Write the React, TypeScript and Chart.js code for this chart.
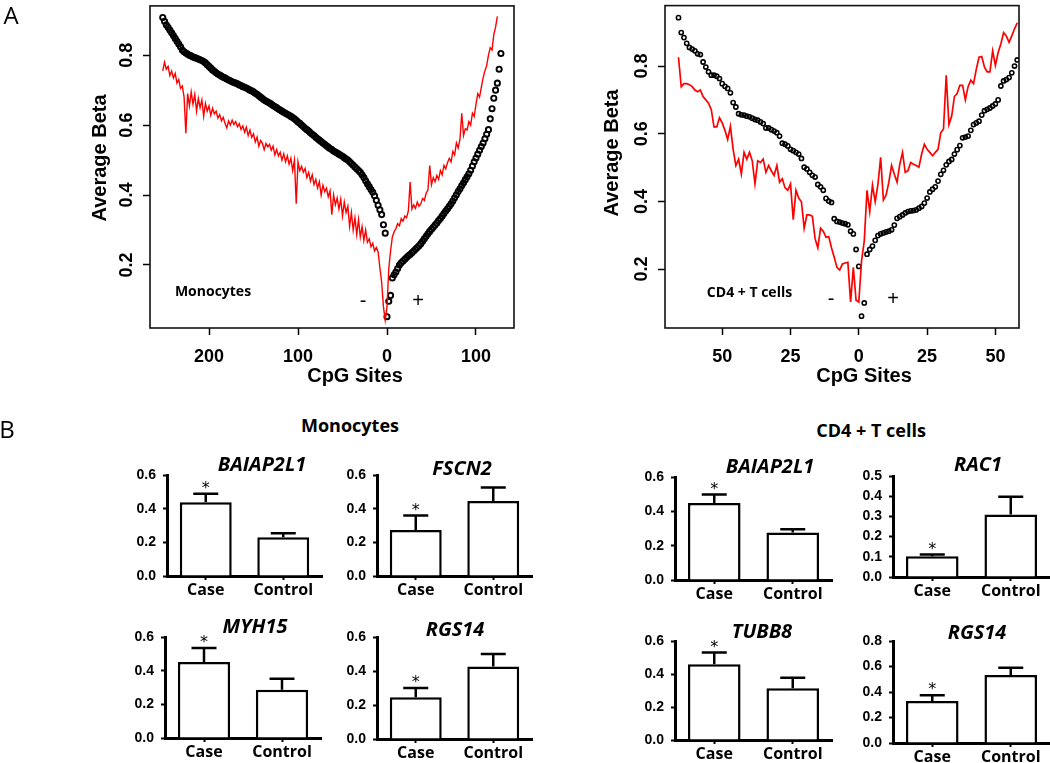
import React, { useEffect, useRef } from "react";
import { Chart, registerables } from "chart.js";

Chart.register(...registerables);

const ARIAL = '"Liberation Sans", Arial, Helvetica, sans-serif';
const OPEN = '"Open Sans", "Noto Sans", sans-serif';

// ---------------- Panel A data ----------------
// Monocytes: values every 2 CpG sites. Left (upstream, "-") starts at site -252; right ("+") starts at 0.
const monoLeftStart = -252;
const monoRightStart = 0;
const monoStep = 2;
const monoBlackLeft = [
  0.908, 0.897, 0.887, 0.88, 0.872, 0.864, 0.856, 0.848, 0.84, 0.832,
  0.824, 0.815, 0.81, 0.806, 0.803, 0.8, 0.798, 0.795, 0.793, 0.791,
  0.789, 0.787, 0.785, 0.782, 0.778, 0.773, 0.768, 0.763, 0.758, 0.754,
  0.75, 0.746, 0.743, 0.74, 0.737, 0.735, 0.732, 0.729, 0.727, 0.724,
  0.722, 0.72, 0.718, 0.715, 0.713, 0.71, 0.708, 0.706, 0.703, 0.7,
  0.698, 0.695, 0.691, 0.688, 0.684, 0.68, 0.676, 0.672, 0.669, 0.666,
  0.663, 0.66, 0.656, 0.653, 0.65, 0.646, 0.643, 0.64, 0.637, 0.634,
  0.631, 0.628, 0.625, 0.622, 0.618, 0.614, 0.609, 0.605, 0.6, 0.596,
  0.591, 0.587, 0.583, 0.578, 0.574, 0.57, 0.565, 0.561, 0.557, 0.553,
  0.549, 0.545, 0.541, 0.537, 0.533, 0.53, 0.526, 0.523, 0.52, 0.517,
  0.514, 0.511, 0.507, 0.503, 0.5, 0.495, 0.49, 0.485, 0.48, 0.475,
  0.47, 0.465, 0.458, 0.45, 0.441, 0.432, 0.424, 0.416, 0.408, 0.398,
  0.385, 0.371, 0.358, 0.344, 0.315, 0.291,
];
const monoBlackRight = [
  0.052, 0.096, 0.113, 0.163, 0.172, 0.18, 0.19, 0.2, 0.206, 0.211,
  0.216, 0.221, 0.226, 0.23, 0.235, 0.24, 0.245, 0.25, 0.255, 0.261,
  0.268, 0.275, 0.282, 0.289, 0.296, 0.302, 0.308, 0.314, 0.32, 0.327,
  0.333, 0.34, 0.347, 0.354, 0.361, 0.368, 0.375, 0.383, 0.392, 0.401,
  0.41, 0.418, 0.427, 0.435, 0.444, 0.452, 0.461, 0.471, 0.483, 0.495,
  0.506, 0.517, 0.528, 0.539, 0.549, 0.561, 0.574, 0.587, 0.618, 0.647,
  0.677, 0.7, 0.72, 0.76, 0.805,
];
const monoRedLeft = [
  0.755, 0.78, 0.76, 0.768, 0.742, 0.755, 0.735, 0.748, 0.72, 0.73,
  0.705, 0.712, 0.68, 0.577, 0.69, 0.655, 0.695, 0.66, 0.688, 0.64,
  0.676, 0.65, 0.672, 0.625, 0.662, 0.64, 0.655, 0.628, 0.648, 0.632,
  0.64, 0.62, 0.63, 0.612, 0.622, 0.605, 0.592, 0.612, 0.6, 0.614,
  0.602, 0.61, 0.595, 0.604, 0.588, 0.598, 0.58, 0.594, 0.57, 0.586,
  0.565, 0.575, 0.552, 0.566, 0.54, 0.556, 0.548, 0.53, 0.548, 0.538,
  0.545, 0.528, 0.54, 0.515, 0.53, 0.512, 0.522, 0.5, 0.518, 0.495,
  0.512, 0.488, 0.505, 0.47, 0.5, 0.375, 0.495, 0.47, 0.482, 0.465,
  0.476, 0.45, 0.465, 0.44, 0.458, 0.43, 0.445, 0.42, 0.438, 0.4,
  0.428, 0.41, 0.42, 0.395, 0.412, 0.344, 0.4, 0.372, 0.392, 0.36,
  0.388, 0.34, 0.38, 0.35, 0.368, 0.31, 0.35, 0.3, 0.335, 0.287,
  0.33, 0.28, 0.31, 0.27, 0.3, 0.265, 0.275, 0.252, 0.262, 0.24,
  0.25, 0.238, 0.192, 0.15, 0.08, 0.042,
];
const monoRedRight = [
  0.08, 0.19, 0.24, 0.28, 0.295, 0.304, 0.318, 0.312, 0.333, 0.325,
  0.34, 0.335, 0.355, 0.437, 0.36, 0.372, 0.362, 0.38, 0.368, 0.375,
  0.39, 0.385, 0.405, 0.415, 0.484, 0.43, 0.45, 0.438, 0.456, 0.445,
  0.47, 0.458, 0.485, 0.475, 0.493, 0.505, 0.495, 0.525, 0.515, 0.549,
  0.535, 0.56, 0.634, 0.57, 0.59, 0.586, 0.61, 0.6, 0.634, 0.625,
  0.66, 0.69, 0.68, 0.709, 0.735, 0.755, 0.77, 0.8, 0.821, 0.815,
  0.859, 0.88, 0.911,
];

// CD4+ T cells: one value per CpG site. Left starts at -66, right at 0.
const cd4LeftStart = -66;
const cd4RightStart = 0;
const cd4Step = 1;
const cd4BlackLeft = [
  0.943, 0.899, 0.884, 0.867, 0.855, 0.85, 0.845, 0.836, 0.834, 0.812,
  0.797, 0.783, 0.773, 0.773, 0.77, 0.763, 0.748, 0.74, 0.734, 0.721,
  0.692, 0.679, 0.659, 0.656, 0.655, 0.652, 0.65, 0.646, 0.642, 0.64,
  0.635, 0.63, 0.617, 0.617, 0.612, 0.608, 0.603, 0.593, 0.572, 0.569,
  0.564, 0.554, 0.55, 0.545, 0.54, 0.527, 0.501, 0.496, 0.486, 0.477,
  0.472, 0.45, 0.443, 0.433, 0.409, 0.401, 0.397, 0.349, 0.341, 0.339,
  0.336, 0.334, 0.331, 0.312, 0.304, 0.258,
];
const cd4BlackRight = [
  0.208, 0.061, 0.1, 0.244, 0.258, 0.268, 0.285, 0.299, 0.304, 0.307,
  0.31, 0.312, 0.316, 0.33, 0.35, 0.355, 0.36, 0.366, 0.37, 0.372,
  0.373, 0.375, 0.38, 0.385, 0.395, 0.41, 0.428, 0.436, 0.443, 0.46,
  0.48, 0.492, 0.508, 0.518, 0.524, 0.54, 0.553, 0.565, 0.588, 0.59,
  0.593, 0.61, 0.627, 0.632, 0.637, 0.655, 0.668, 0.672, 0.676, 0.682,
  0.688, 0.7, 0.741, 0.756, 0.76, 0.766, 0.78, 0.8, 0.818,
];
const cd4RedLeft = [
  0.826, 0.739, 0.748, 0.748, 0.745, 0.739, 0.729, 0.724, 0.729, 0.71,
  0.7, 0.69, 0.671, 0.62, 0.62, 0.647, 0.632, 0.61, 0.583, 0.622,
  0.554, 0.506, 0.525, 0.481, 0.545, 0.525, 0.545, 0.52, 0.452, 0.52,
  0.515, 0.525, 0.486, 0.506, 0.49, 0.477, 0.506, 0.457, 0.467, 0.44,
  0.433, 0.452, 0.346, 0.433, 0.41, 0.399, 0.321, 0.36, 0.36, 0.356,
  0.29, 0.263, 0.321, 0.312, 0.294, 0.296, 0.263, 0.235, 0.205, 0.197,
  0.215, 0.218, 0.22, 0.103, 0.205, 0.108,
];
const cd4RedRight = [
  0.103, 0.224, 0.283, 0.433, 0.37, 0.448, 0.399, 0.45, 0.53, 0.404,
  0.419, 0.457, 0.506, 0.48, 0.457, 0.51, 0.545, 0.486, 0.491, 0.515,
  0.51, 0.506, 0.501, 0.54, 0.569, 0.554, 0.545, 0.535, 0.545, 0.554,
  0.603, 0.614, 0.773, 0.627, 0.652, 0.71, 0.719, 0.743, 0.743, 0.7,
  0.739, 0.758, 0.748, 0.79, 0.826, 0.828, 0.797, 0.783, 0.783, 0.845,
  0.802, 0.84, 0.865, 0.899, 0.889, 0.87, 0.889, 0.91, 0.928,
];

const monoXTicks = [-200, -100, 0, 100];
const cd4XTicks = [-50, -25, 0, 25, 50];
const betaTicks = [0.2, 0.4, 0.6, 0.8];

// ---------------- Panel B data ----------------
const groups = ["Case", "Control"];
const monoGenes = ["BAIAP2L1", "FSCN2", "MYH15", "RGS14"];
const monoCase = [0.438, 0.273, 0.452, 0.245];
const monoControl = [0.23, 0.446, 0.287, 0.427];
const monoCaseErr = [0.05, 0.087, 0.083, 0.055];
const monoControlErr = [0.024, 0.08, 0.065, 0.073];
const cd4Genes = ["BAIAP2L1", "RAC1", "TUBB8", "RGS14"];
const cd4Case = [0.449, 0.103, 0.459, 0.33];
const cd4Control = [0.277, 0.31, 0.313, 0.534];
const cd4CaseErr = [0.049, 0.008, 0.071, 0.045];
const cd4ControlErr = [0.018, 0.087, 0.065, 0.056];
const ticks06 = [0, 0.2, 0.4, 0.6];
const ticks05 = [0, 0.1, 0.2, 0.3, 0.4, 0.5];
const ticks08 = [0, 0.2, 0.4, 0.6, 0.8];
const monoYTicks = [ticks06, ticks06, ticks06, ticks06];
const cd4YTicks = [ticks06, ticks05, ticks06, ticks08];
const starredGroup = 0; // "Case" marked significant

// ---------------- layout (styles / positions) ----------------
const monoBarBoxes = [
  { axisX: 167, right: 322, y0: 576, yTop: 475, titleDx: 95, titleDy: -10 },
  { axisX: 377, right: 532, y0: 576, yTop: 475, titleDx: 85, titleDy: -6 },
  { axisX: 165, right: 321, y0: 738, yTop: 637, titleDx: 90, titleDy: -10 },
  { axisX: 377, right: 532, y0: 739, yTop: 637, titleDx: 78, titleDy: -7 },
];
const cd4BarBoxes = [
  { axisX: 675, right: 832, y0: 580, yTop: 477, titleDx: 95, titleDy: -10 },
  { axisX: 893, right: 1050, y0: 577, yTop: 476, titleDx: 85, titleDy: -11 },
  { axisX: 675, right: 832, y0: 740, yTop: 641, titleDx: 87, titleDy: -9 },
  { axisX: 893, right: 1050, y0: 743, yTop: 641, titleDx: 84, titleDy: -8 },
];

const toPoints = (vals: number[], start: number, step: number) =>
  vals.map((v, i) => ({ x: start + i * step, y: v }));

const zeroPad = (s: any) => {
  s.paddingLeft = 0;
  s.paddingRight = 0;
  s.paddingTop = 0;
  s.paddingBottom = 0;
};

type TextItem = {
  text: string;
  x: number;
  y: number;
  font: string;
  rotate?: number;
  align?: CanvasTextAlign;
};

const textPlugin = (items: TextItem[]) => ({
  id: "texts",
  afterDraw(chart: any) {
    const ctx = chart.ctx;
    for (const t of items) {
      ctx.save();
      ctx.translate(t.x, t.y);
      if (t.rotate) ctx.rotate(t.rotate);
      ctx.font = t.font;
      ctx.fillStyle = "#000";
      ctx.textAlign = t.align || "center";
      ctx.textBaseline = "middle";
      ctx.fillText(t.text, 0, 0);
      ctx.restore();
    }
  },
});

const boxPlugin = {
  id: "box",
  afterDatasetsDraw(chart: any) {
    const { left, top, right, bottom } = chart.chartArea;
    const ctx = chart.ctx;
    ctx.save();
    ctx.lineWidth = 1.6;
    ctx.strokeStyle = "#111";
    ctx.strokeRect(left, top, right - left, bottom - top);
    ctx.restore();
  },
};

function lineConfig(o: any) {
  return {
    type: "scatter",
    data: {
      datasets: [
        {
          data: o.red,
          showLine: true,
          borderColor: "#ff0000",
          borderWidth: o.redWidth,
          pointRadius: 0,
          tension: 0,
        },
        {
          data: o.black,
          showLine: false,
          pointRadius: o.pointRadius,
          pointBorderWidth: o.pointBorder,
          borderColor: "#000",
          backgroundColor: "rgba(255,255,255,0)",
          pointStyle: "circle",
        },
      ],
    },
    options: {
      responsive: false,
      animation: false,
      devicePixelRatio: 1,
      events: [],
      layout: { padding: o.padding },
      plugins: { legend: { display: false }, tooltip: { enabled: false } },
      scales: {
        x: {
          type: "linear",
          min: o.xMin,
          max: o.xMax,
          afterBuildTicks: (s: any) => {
            s.ticks = o.xTicks.map((v: number) => ({ value: v }));
          },
          afterFit: (s: any) => {
            s.height = o.xHeight;
            zeroPad(s);
          },
          grid: { drawOnChartArea: false, drawTicks: true, tickLength: 7, tickWidth: 1.5, tickColor: "#000" },
          border: { display: false },
          ticks: {
            color: "#000",
            font: { family: ARIAL, size: 18, weight: "bold" },
            padding: 11,
            maxRotation: 0,
            autoSkip: false,
            callback: (v: any) => String(Math.abs(Number(v))),
          },
        },
        y: {
          type: "linear",
          min: o.yMin,
          max: o.yMax,
          afterBuildTicks: (s: any) => {
            s.ticks = betaTicks.map((v) => ({ value: v }));
          },
          afterFit: (s: any) => {
            s.width = o.yWidth;
            zeroPad(s);
          },
          grid: { drawOnChartArea: false, drawTicks: true, tickLength: 7, tickWidth: 1.5, tickColor: "#000" },
          border: { display: false },
          ticks: {
            color: "#000",
            font: { family: ARIAL, size: 18, weight: "bold" },
            padding: 3,
            minRotation: 90,
            maxRotation: 90,
            crossAlign: "center",
            callback: (v: any) => Number(v).toFixed(1),
          },
        },
      },
    },
    plugins: [boxPlugin, textPlugin(o.texts)],
  };
}

function barDecor(gene: string, errs: number[], titleDx: number, titleDy: number) {
  return {
    id: "barDecor",
    afterDatasetsDraw(chart: any) {
      const ctx = chart.ctx;
      const y = chart.scales.y;
      const vals = chart.data.datasets[0].data as number[];
      const meta = chart.getDatasetMeta(0);
      ctx.save();
      ctx.strokeStyle = "#000";
      ctx.fillStyle = "#000";
      ctx.lineWidth = 2.5;
      meta.data.forEach((el: any, i: number) => {
        const top = y.getPixelForValue(vals[i]);
        const cap = y.getPixelForValue(vals[i] + errs[i]);
        ctx.beginPath();
        ctx.moveTo(el.x, top);
        ctx.lineTo(el.x, cap);
        ctx.moveTo(el.x - 12.5, cap);
        ctx.lineTo(el.x + 12.5, cap);
        ctx.stroke();
        if (i === starredGroup) {
          ctx.font = `16px "DejaVu Sans", sans-serif`;
          ctx.textAlign = "center";
          ctx.textBaseline = "middle";
          ctx.fillText("*", el.x, cap - 8 + 3);
        }
      });
      ctx.font = `italic bold 20px ${OPEN}`;
      ctx.textAlign = "center";
      ctx.textBaseline = "middle";
      ctx.fillText(gene, chart.chartArea.left + titleDx, chart.chartArea.top + titleDy);
      ctx.restore();
    },
  };
}

function barConfig(gene: string, means: number[], errs: number[], ticks: number[], box: any, pad: any) {
  return {
    type: "bar",
    data: {
      labels: groups,
      datasets: [
        {
          data: means,
          backgroundColor: "#fff",
          borderColor: "#000",
          borderWidth: 2.5,
          barPercentage: 0.67,
          categoryPercentage: 1,
        },
      ],
    },
    options: {
      responsive: false,
      animation: false,
      devicePixelRatio: 1,
      events: [],
      layout: { padding: pad },
      plugins: { legend: { display: false }, tooltip: { enabled: false } },
      scales: {
        x: {
          type: "category",
          offset: true,
          afterFit: (s: any) => {
            s.height = 30;
            zeroPad(s);
          },
          grid: { display: true, drawOnChartArea: false, offset: false, tickLength: 4, tickWidth: 2, tickColor: "#000" },
          border: { display: true, color: "#000", width: 3 },
          ticks: {
            color: "#000",
            font: { family: OPEN, size: 16, weight: "bold" },
            padding: 1,
            maxRotation: 0,
            autoSkip: false,
          },
        },
        y: {
          type: "linear",
          min: 0,
          max: ticks[ticks.length - 1],
          afterBuildTicks: (s: any) => {
            s.ticks = ticks.map((v) => ({ value: v }));
          },
          afterFit: (s: any) => {
            s.width = 50;
            zeroPad(s);
          },
          grid: { drawOnChartArea: false, tickLength: 4, tickWidth: 2, tickColor: "#000" },
          border: { display: true, color: "#000", width: 3 },
          ticks: {
            color: "#000",
            font: { family: ARIAL, size: 14, weight: "bold" },
            padding: 7,
            callback: (v: any) => Number(v).toFixed(1),
          },
        },
      },
    },
    plugins: [barDecor(gene, errs, box.titleDx, box.titleDy)],
  };
}

function ChartCanvas({ left, top, width, height, make }: any) {
  const ref = useRef<HTMLCanvasElement>(null);
  useEffect(() => {
    const chart = new Chart(ref.current as HTMLCanvasElement, make());
    return () => chart.destroy();
  }, []);
  return (
    <canvas
      ref={ref}
      width={width}
      height={height}
      style={{ position: "absolute", left, top, width, height, display: "block" }}
    />
  );
}

function BarPanel({ gene, caseV, ctrlV, caseE, ctrlE, ticks, box }: any) {
  const left = box.axisX - 50;
  const top = box.yTop - 40;
  const canvasRight = Math.min(1050, box.right + 4);
  const width = canvasRight - left;
  const height = box.y0 - top + 30;
  const pad = { left: 0, top: 40, right: canvasRight - box.right, bottom: 0 };
  return (
    <ChartCanvas
      left={left}
      top={top}
      width={width}
      height={height}
      make={() => barConfig(gene, [caseV, ctrlV], [caseE, ctrlE], ticks, box, pad)}
    />
  );
}

const Label = ({ x, y, text, style }: any) => (
  <div
    style={{
      position: "absolute",
      left: x,
      top: y,
      transform: "translate(-50%, -50%)",
      whiteSpace: "nowrap",
      lineHeight: 1,
      color: "#000",
      ...style,
    }}
  >
    {text}
  </div>
);

export default function App() {
  const monoMake = () =>
    lineConfig({
      red: [...toPoints(monoRedLeft, monoLeftStart, monoStep), ...toPoints(monoRedRight, monoRightStart, monoStep)],
      black: [...toPoints(monoBlackLeft, monoLeftStart, monoStep), ...toPoints(monoBlackRight, monoRightStart, monoStep)],
      redWidth: 1.4,
      pointRadius: 2.6,
      pointBorder: 1.9,
      xMin: -266.3,
      xMax: 142.7,
      yMin: 0.0197,
      yMax: 0.941,
      xTicks: monoXTicks,
      yWidth: 150,
      xHeight: 72,
      padding: { left: 0, top: 1, right: 10, bottom: 0 },
      texts: [
        { text: "Average Beta", x: 100, y: 158, rotate: -Math.PI / 2, font: `bold 20px ${ARIAL}` },
        { text: "CpG Sites", x: 355, y: 376, font: `bold 20px ${ARIAL}` },
        { text: "Monocytes", x: 213, y: 292, font: `bold 14px ${OPEN}` },
        { text: "-", x: 363, y: 301, font: `20px ${ARIAL}` },
        { text: "+", x: 418, y: 301, font: `20px ${ARIAL}` },
      ],
    });
  const cd4Make = () =>
    lineConfig({
      red: [...toPoints(cd4RedLeft, cd4LeftStart, cd4Step), ...toPoints(cd4RedRight, cd4RightStart, cd4Step)],
      black: [...toPoints(cd4BlackLeft, cd4LeftStart, cd4Step), ...toPoints(cd4BlackRight, cd4RightStart, cd4Step)],
      redWidth: 1.7,
      pointRadius: 2.1,
      pointBorder: 1.6,
      xMin: -70.94,
      xMax: 58.64,
      yMin: 0.026,
      yMax: 0.9786,
      xTicks: cd4XTicks,
      yWidth: 145,
      xHeight: 72,
      padding: { left: 0, top: 1, right: 31, bottom: 0 },
      texts: [
        { text: "Average Beta", x: 92, y: 153, rotate: -Math.PI / 2, font: `bold 20px ${ARIAL}` },
        { text: "CpG Sites", x: 344, y: 376, font: `bold 20px ${ARIAL}` },
        { text: "CD4 + T cells", x: 229.5, y: 293, font: `bold 14px ${OPEN}` },
        { text: "-", x: 311, y: 299, font: `20px ${ARIAL}` },
        { text: "+", x: 373, y: 299, font: `20px ${ARIAL}` },
      ],
    });

  return (
    <div
      style={{
        position: "absolute",
        left: 0,
        top: 0,
        width: 1050,
        height: 763,
        overflow: "hidden",
        background: "#fff",
        fontFamily: OPEN,
      }}
    >
      <ChartCanvas left={0} top={0} width={524} height={400} make={monoMake} />
      <ChartCanvas left={520} top={0} width={530} height={400} make={cd4Make} />
      <Label x={11} y={15} text="A" style={{ fontSize: 24, fontWeight: 400 }} />
      <Label x={7} y={429} text="B" style={{ fontSize: 24, fontWeight: 400 }} />
      <Label x={350} y={425} text="Monocytes" style={{ fontSize: 18, fontWeight: 700 }} />
      <Label x={871} y={430} text="CD4 + T cells" style={{ fontSize: 18, fontWeight: 700 }} />
      {monoGenes.map((g, i) => (
        <BarPanel
          key={"m" + i}
          gene={g}
          caseV={monoCase[i]}
          ctrlV={monoControl[i]}
          caseE={monoCaseErr[i]}
          ctrlE={monoControlErr[i]}
          ticks={monoYTicks[i]}
          box={monoBarBoxes[i]}
        />
      ))}
      {cd4Genes.map((g, i) => (
        <BarPanel
          key={"c" + i}
          gene={g}
          caseV={cd4Case[i]}
          ctrlV={cd4Control[i]}
          caseE={cd4CaseErr[i]}
          ctrlE={cd4ControlErr[i]}
          ticks={cd4YTicks[i]}
          box={cd4BarBoxes[i]}
        />
      ))}
    </div>
  );
}
